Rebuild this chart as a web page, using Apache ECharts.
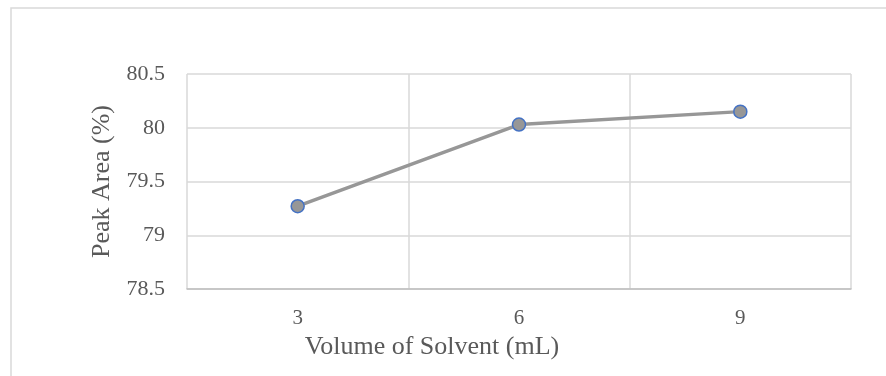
<!DOCTYPE html>
<html>
<head>
<meta charset="utf-8">
<script src="https://cdn.jsdelivr.net/npm/echarts@6/dist/echarts.min.js"></script>
<style>
  html, body { margin: 0; padding: 0; background: #fff; }
  #chart { width: 886px; height: 376px; }
</style>
</head>
<body>
<div id="chart"></div>
<script>
const categories = ['3', '6', '9']
const peakArea = [79.27, 80.03, 80.15]
const yTicks = { min: 78.5, max: 80.5, interval: 0.5 }

const serif = '"Liberation Serif", "Times New Roman", serif'
const colors = {
  text: '#595959',
  grid: '#d9d9d9',
  axis: '#bfbfbf',
  line: '#979797',
  marker: '#4472c4',
}

const chart = echarts.init(document.getElementById('chart'))

chart.setOption({
  backgroundColor: '#fff',
  animation: false,
  // outer chart-area frame, cut off on the right and bottom like the source
  graphic: [{
    type: 'rect',
    shape: { x: 11, y: 8, width: 900, height: 400 },
    style: { fill: 'none', stroke: colors.grid, lineWidth: 1.5 },
    silent: true,
  }],
  grid: { left: 187, right: 35, top: 74, bottom: 87 },
  xAxis: {
    type: 'category',
    data: categories,
    boundaryGap: true,
    name: 'Volume of Solvent (mL)',
    nameLocation: 'middle',
    nameGap: 44,
    nameTextStyle: { fontFamily: serif, fontSize: 26, color: colors.text, padding: [0, 174, 0, 0] },
    axisLine: { lineStyle: { color: colors.axis, width: 1.5 } },
    axisTick: { show: false },
    axisLabel: { fontFamily: serif, fontSize: 21, color: colors.text, margin: 19 },
    splitLine: { show: true, interval: 0, lineStyle: { color: colors.grid, width: 1.5 } },
  },
  yAxis: {
    type: 'value',
    min: yTicks.min,
    max: yTicks.max,
    interval: yTicks.interval,
    name: 'Peak Area (%)',
    nameLocation: 'middle',
    nameGap: 68,
    nameTextStyle: { fontFamily: serif, fontSize: 26, color: colors.text },
    axisLine: { show: false },
    axisTick: { show: false },
    axisLabel: { fontFamily: serif, fontSize: 22, color: colors.text, margin: 22 },
    splitLine: { lineStyle: { color: colors.grid, width: 1.5 } },
  },
  series: [{
    type: 'line',
    data: peakArea,
    symbol: 'circle',
    symbolSize: 13,
    lineStyle: { color: colors.line, width: 3.5 },
    itemStyle: { color: colors.line, borderColor: colors.marker, borderWidth: 1.5 },
  }],
})
</script>
</body>
</html>
